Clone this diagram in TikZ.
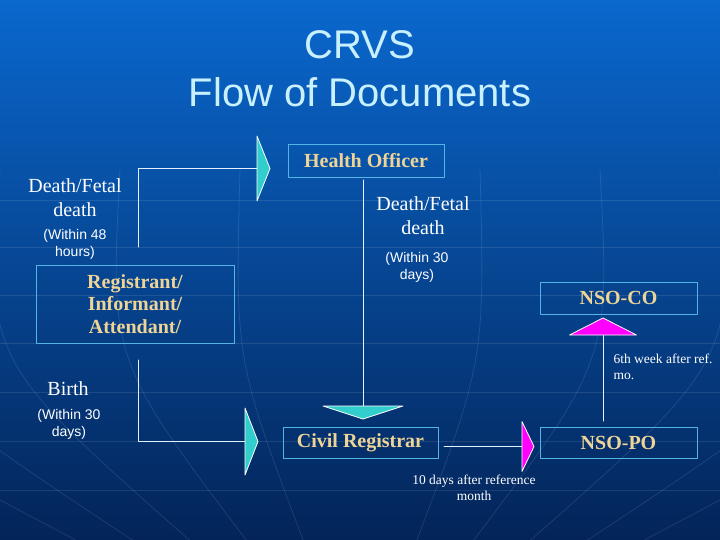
\documentclass[tikz,border=0pt]{standalone}
\usepackage{fontspec}
\setmainfont{Liberation Serif}
\newfontfamily\arialfont{Liberation Sans}
\usepackage{tikz}
\usetikzlibrary{calc}
\definecolor{bgtop}{RGB}{10,104,206}
\definecolor{bgmid}{RGB}{6,70,150}
\definecolor{bgbot}{RGB}{3,36,88}
\definecolor{titlecol}{RGB}{200,240,255}
\definecolor{tancol}{RGB}{238,212,150}
\definecolor{boxcol}{RGB}{85,180,230}
\definecolor{linecol}{RGB}{228,242,255}
\definecolor{headteal}{RGB}{50,205,205}
\definecolor{headpink}{RGB}{255,0,255}

\begin{document}
\begin{tikzpicture}[line cap=round,line join=round,x=1pt,y=-1pt,
    docbox/.style={draw=boxcol,line width=0.8pt,text=tancol,inner sep=0pt,align=center,
        font=\fontsize{20}{22.5}\selectfont\bfseries},
    flowline/.style={draw=linecol,line width=1pt},
    tealhead/.style={fill=headteal,draw=white,line width=0.8pt},
    pinkhead/.style={fill=headpink,draw=white,line width=0.8pt},
    bigtext/.style={text=white,align=center,font=\fontsize{20}{24}\selectfont},
    smalltext/.style={text=white,align=center,font=\arialfont\fontsize{14}{17}\selectfont},
    notetext/.style={text=white,font=\fontsize{13.5}{16.5}\selectfont},
    faint/.style={draw=white,opacity=0.1,line width=0.8pt}]
    \useasboundingbox (0,0) rectangle (720,540);
    % background
    \shade [top color=bgtop,middle color=bgmid,bottom color=bgbot] (0,0) rectangle (720,540);
    \foreach \y in {200,247,295,343,392,441,490}
        \draw [faint] (0,\y) -- (720,\y);
    \foreach \k in {-5,-4,-3,-2,-1,1,2,3,4,5}
        \draw [faint] (360+\k*120,170) .. controls (360+\k*125,360) .. (360+\k*55,545);
    % title
    \node [text=titlecol,align=center,font=\arialfont\fontsize{40}{48}\selectfont] (title) at (360,69) {CRVS\\Flow of Documents};
    % boxes
    \node [docbox,minimum width=156,minimum height=33] (health) at (366,160.5) {Health Officer};
    \node [docbox,minimum width=198,minimum height=78] (registrant) at (135,304) {Registrant/\\Informant/\\Attendant/};
    \node [docbox,minimum width=155,minimum height=31] (civil) at (360.5,442.5) {Civil Registrar};
    \node [docbox,minimum width=157,minimum height=31] (nsopo) at (618.5,442.5) {NSO-PO};
    \node [docbox,minimum width=157,minimum height=32] (nsoco) at (618.5,298) {NSO-CO};
    % texts
    \node [bigtext] (deathL) at (75,198) {Death/Fetal\\death};
    \node [smalltext] (hoursL) at (75,244) {(Within 48\\hours)};
    \node [bigtext] (deathR) at (423,216) {Death/Fetal\\death};
    \node [smalltext] (daysR) at (417,267) {(Within 30\\days)};
    \node [bigtext] (birth) at (68,389) {Birth};
    \node [smalltext] (daysB) at (69,424) {(Within 30\\days)};
    \node [notetext,align=center] (tendays) at (474,488) {10 days after reference\\month};
    \node [notetext,align=left,anchor=west] (sixweek) at (610,367) {6th week after ref.\\mo.};
    % connectors
    \coordinate (regOut) at (138,247);
    \coordinate (hoIn) at (257,168.5);
    \coordinate (hoOut) at (363,180);
    \coordinate (crIn) at (363,406);
    \coordinate (birthOut) at (138,360);
    \coordinate (birthIn) at (245,441.5);
    \coordinate (crOut) at (444,446.5);
    \coordinate (poIn) at (522,446.5);
    \coordinate (poOut) at (603,421);
    \coordinate (coIn) at (603,335);
    \draw [flowline] (regOut) |- (hoIn);
    \draw [flowline] (hoOut) -- (crIn);
    \draw [flowline] (birthOut) |- (birthIn);
    \draw [flowline] (crOut) -- (poIn);
    \draw [flowline] (poOut) -- (coIn);
    % arrow heads
    \filldraw [tealhead] ($(hoIn)+(0,-32.5)$) -- ($(hoIn)+(13,0)$) -- ($(hoIn)+(0,32.5)$) -- cycle;
    \filldraw [tealhead] ($(crIn)+(-40,0)$) -- ($(crIn)+(0,13)$) -- ($(crIn)+(40,0)$) -- cycle;
    \filldraw [tealhead] ($(birthIn)+(0,-33.5)$) -- ($(birthIn)+(13,0)$) -- ($(birthIn)+(0,33.5)$) -- cycle;
    \filldraw [pinkhead] ($(poIn)+(0,-25)$) -- ($(poIn)+(12,0)$) -- ($(poIn)+(0,25)$) -- cycle;
    \filldraw [pinkhead] ($(coIn)+(-33.5,0)$) -- ($(coIn)+(0,-17)$) -- ($(coIn)+(33.5,0)$) -- cycle;
\end{tikzpicture}
\end{document}
